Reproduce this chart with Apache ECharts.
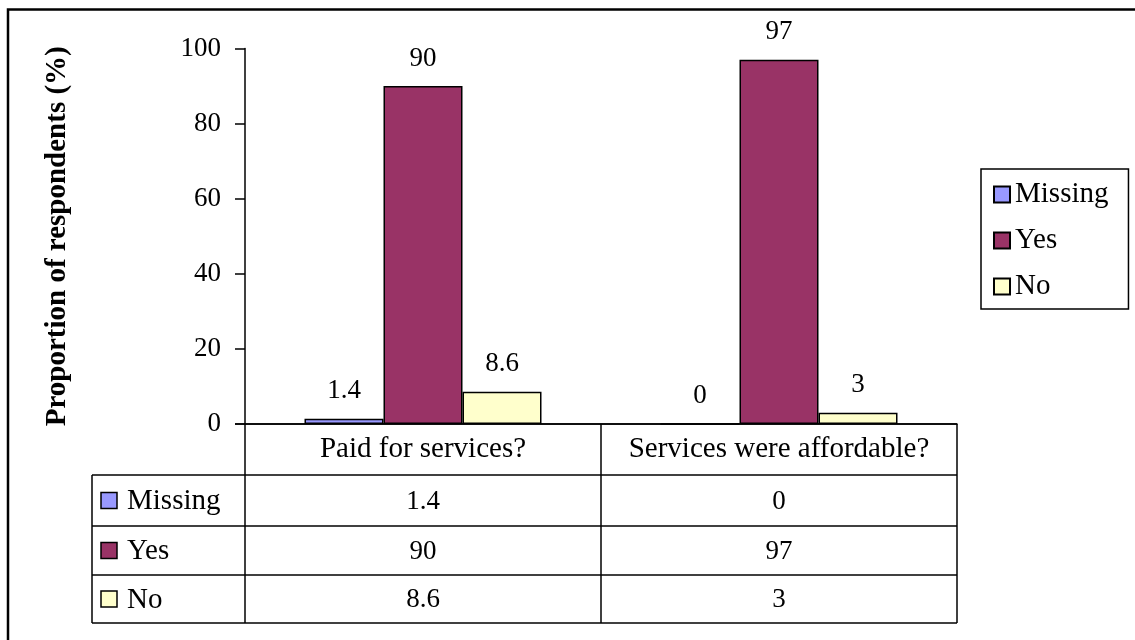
<!DOCTYPE html>
<html>
<head>
<meta charset="utf-8">
<script src="https://cdn.jsdelivr.net/npm/echarts@6/dist/echarts.min.js"></script>
<style>
  html, body { margin: 0; padding: 0; background: #fff; }
  #chart { width: 1135px; height: 640px; }
</style>
</head>
<body>
<div id="chart"></div>
<script>
// Survey answers, percent of respondents
const categories = ['Paid for services?', 'Services were affordable?'];
const seriesNames = ['Missing', 'Yes', 'No'];
const missingValues = [1.4, 0];
const yesValues = [90, 97];
const noValues = [8.6, 3];
const yTicks = [0, 20, 40, 60, 80, 100];

const seriesValues = [missingValues, yesValues, noValues];
const seriesColors = ['#9999FF', '#993366', '#FFFFCC'];

const FONT = '"Liberation Serif", "Times New Roman", serif';
const FS = 27;      // numbers
const FS_TEXT = 29; // words

// plot area and data-table geometry
const W = 1135, H = 640;
const plotLeft = 245, plotRight = 957, plotTop = 48.5, plotBottom = 424;
const tableLeft = 92;
const rowLines = [plotBottom, 475, 526, 575, 623];

const chart = echarts.init(document.getElementById('chart'), null, { renderer: 'canvas' });

function tableGraphics() {
  const els = [];
  const catW = (plotRight - plotLeft) / categories.length;
  const line = (x1, y1, x2, y2) => ({
    type: 'line', silent: true,
    shape: { x1, y1, x2, y2 },
    style: { stroke: '#000', lineWidth: 1.5 }
  });
  const text = (t, x, y, align, size) => ({
    type: 'text', silent: true,
    style: { text: t, x, y, font: (size || FS) + 'px ' + FONT, fill: '#000', align: align || 'center', verticalAlign: 'middle' }
  });
  const bottom = rowLines[rowLines.length - 1];
  // column separators
  for (let i = 0; i <= categories.length; i++) {
    const x = plotLeft + i * catW;
    els.push(line(x, plotBottom, x, bottom));
  }
  els.push(line(tableLeft, rowLines[1], tableLeft, bottom));
  // row separators
  els.push(line(plotLeft - 10, plotBottom, plotRight, plotBottom));
  for (let r = 1; r < rowLines.length; r++) {
    els.push(line(tableLeft, rowLines[r], plotRight, rowLines[r]));
  }
  // row headers with key swatches and values
  seriesNames.forEach((name, s) => {
    const cy = (rowLines[s + 1] + rowLines[s + 2]) / 2;
    els.push({
      type: 'rect', silent: true,
      shape: { x: 101, y: cy - 8, width: 16, height: 16 },
      style: { fill: seriesColors[s], stroke: '#000', lineWidth: 1.5 }
    });
    els.push(text(name, 127, cy + 1, 'left', FS_TEXT));
    seriesValues[s].forEach((v, c) => {
      els.push(text(String(v), plotLeft + (c + 0.5) * catW, cy + 1));
    });
  });
  // outer frame
  els.push({
    type: 'rect', silent: true,
    shape: { x: 8, y: 9.5, width: W + 20, height: H + 20 },
    style: { fill: 'none', stroke: '#000', lineWidth: 2.5 }
  });
  return els;
}

chart.setOption({
  animation: false,
  backgroundColor: '#fff',
  textStyle: { fontFamily: FONT, color: '#000' },
  grid: {
    left: plotLeft, right: W - plotRight, top: plotTop, bottom: H - plotBottom,
    containLabel: false
  },
  legend: {
    orient: 'vertical',
    left: 981, top: 169,
    padding: [11, 20, 8, 12],
    itemWidth: 16, itemHeight: 16, itemGap: 17,
    itemTextGap: 10,
    borderColor: '#000', borderWidth: 1.5,
    icon: 'rect',
    textStyle: { fontFamily: FONT, fontSize: FS_TEXT, color: '#000' },
    data: seriesNames
  },
  xAxis: {
    type: 'category',
    data: categories,
    axisLine: { lineStyle: { color: '#000', width: 1.5 } },
    axisTick: { show: false },
    axisLabel: { interval: 0, fontFamily: FONT, fontSize: FS_TEXT, color: '#000', margin: 11 },
    splitLine: { show: false }
  },
  yAxis: {
    type: 'value',
    min: yTicks[0], max: yTicks[yTicks.length - 1], interval: yTicks[1] - yTicks[0],
    name: 'Proportion of respondents (%)',
    nameLocation: 'middle',
    nameGap: 173,
    nameTextStyle: { fontFamily: FONT, fontSize: 29, fontWeight: 'bold', color: '#000' },
    axisLine: { show: true, lineStyle: { color: '#000', width: 1.5 } },
    axisTick: { show: true, inside: false, length: 10, lineStyle: { color: '#000', width: 1.5 } },
    axisLabel: { fontFamily: FONT, fontSize: FS, color: '#000', margin: 24 },
    splitLine: { show: false }
  },
  series: seriesNames.map((name, s) => ({
    name,
    type: 'bar',
    data: seriesValues[s],
    barWidth: 79,
    barGap: '0%',
    itemStyle: { color: seriesColors[s], borderColor: '#000', borderWidth: 1.5 },
    label: {
      show: true, position: 'top', distance: 14,
      fontFamily: FONT, fontSize: FS, color: '#000'
    }
  })),
  graphic: tableGraphics()
});
</script>
</body>
</html>
